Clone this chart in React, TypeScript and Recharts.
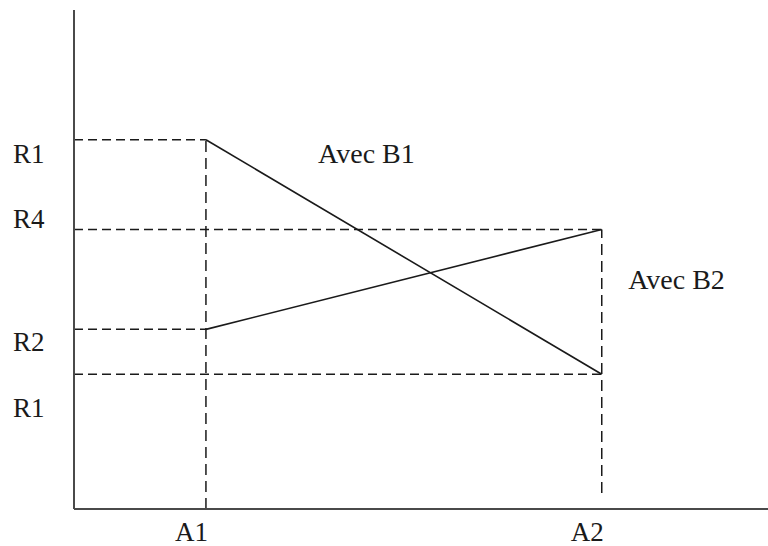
import React from 'react';
import { LineChart, Line, XAxis, YAxis, ReferenceLine, ReferenceDot } from 'recharts';

// Category positions on the horizontal axis
const categories = ['A1', 'A2'];
const categoryX = [1, 4];

// Response levels for each series at A1 and A2
const seriesB1 = [74, 27];
const seriesB2 = [36, 56];

// Y-axis tick values and their labels
const yTickValues = [74, 56, 36, 27];
const yTickLabels = ['R1', 'R4', 'R2', 'R1'];

// Series annotations (text + anchor in data space)
const annotations = [
  { text: 'Avec B1', x: 1.85, y: 69.3 },
  { text: 'Avec B2', x: 4.2, y: 44.1 },
];

const data = categoryX.map((x, i) => ({ x, b1: seriesB1[i], b2: seriesB2[i] }));

const FONT =
  "'Liberation Serif', 'DejaVu Serif', 'Noto Serif', Tinos, FreeSerif, 'Times New Roman', Times, serif";
const AXIS_COLOR = '#4a4a4a';
const INK = '#1a1a1a';

// baseline shift of each y label relative to its tick
const yLabelShift = [23, -2, 22, 43];

const textStyle = { fontFamily: FONT };

const YTick = (props: any) => {
  const { y, payload, index } = props;
  const i = yTickValues.indexOf(payload.value);
  const k = i >= 0 ? i : index;
  return (
    <text x={13} y={y + yLabelShift[k]} style={textStyle} fontSize={27} fill={INK} textAnchor="start">
      {yTickLabels[k]}
    </text>
  );
};

const XTick = (props: any) => {
  const { x, payload } = props;
  const i = categoryX.indexOf(payload.value);
  return (
    <text x={x + 2} y={541} style={textStyle} fontSize={27} fill={INK} textAnchor="end">
      {categories[i]}
    </text>
  );
};

const dashH = '9 5';
const dashV = '11 6';

export default function App() {
  return (
    <div style={{ position: 'absolute', left: 0, top: 0, background: '#fff' }}>
      <LineChart width={768} height={546} data={data} margin={{ top: 10, right: 0, bottom: 0, left: 0 }}>
        <XAxis
          type="number"
          dataKey="x"
          domain={[0, 5.26]}
          ticks={categoryX}
          tick={<XTick />}
          tickLine={false}
          height={37}
          axisLine={{ stroke: AXIS_COLOR, strokeWidth: 2 }}
          allowDataOverflow
        />
        <YAxis
          type="number"
          domain={[0, 100]}
          ticks={yTickValues}
          tick={<YTick />}
          tickLine={false}
          width={74}
          axisLine={{ stroke: AXIS_COLOR, strokeWidth: 2 }}
          allowDataOverflow
        />
        {/* horizontal guides from the y axis to each point */}
        <ReferenceLine segment={[{ x: 0, y: seriesB1[0] }, { x: categoryX[0], y: seriesB1[0] }]} stroke={INK} strokeWidth={1.5} strokeDasharray={dashH} ifOverflow="visible" />
        <ReferenceLine segment={[{ x: 0, y: seriesB2[1] }, { x: categoryX[1], y: seriesB2[1] }]} stroke={INK} strokeWidth={1.5} strokeDasharray={dashH} ifOverflow="visible" />
        <ReferenceLine segment={[{ x: 0, y: seriesB2[0] }, { x: categoryX[0], y: seriesB2[0] }]} stroke={INK} strokeWidth={1.5} strokeDasharray={dashH} ifOverflow="visible" />
        <ReferenceLine segment={[{ x: 0, y: seriesB1[1] }, { x: categoryX[1], y: seriesB1[1] }]} stroke={INK} strokeWidth={1.5} strokeDasharray={dashH} ifOverflow="visible" />
        {/* vertical guides down from each category */}
        <ReferenceLine segment={[{ x: categoryX[0], y: 0 }, { x: categoryX[0], y: seriesB1[0] }]} stroke={INK} strokeWidth={1.5} strokeDasharray={dashV} ifOverflow="visible" />
        <ReferenceLine segment={[{ x: categoryX[1], y: 3.2 }, { x: categoryX[1], y: seriesB2[1] }]} stroke={INK} strokeWidth={1.5} strokeDasharray={dashV} ifOverflow="visible" />
        <Line type="linear" dataKey="b1" stroke={INK} strokeWidth={1.6} dot={false} isAnimationActive={false} />
        <Line type="linear" dataKey="b2" stroke={INK} strokeWidth={1.6} dot={false} isAnimationActive={false} />
        {annotations.map((a) => (
          <ReferenceDot
            key={a.text}
            x={a.x}
            y={a.y}
            r={0}
            ifOverflow="visible"
            shape={(p: any) => (
              <text x={p.cx} y={p.cy} style={textStyle} fontSize={28} fill={INK}>
                {a.text}
              </text>
            )}
          />
        ))}
      </LineChart>
    </div>
  );
}
